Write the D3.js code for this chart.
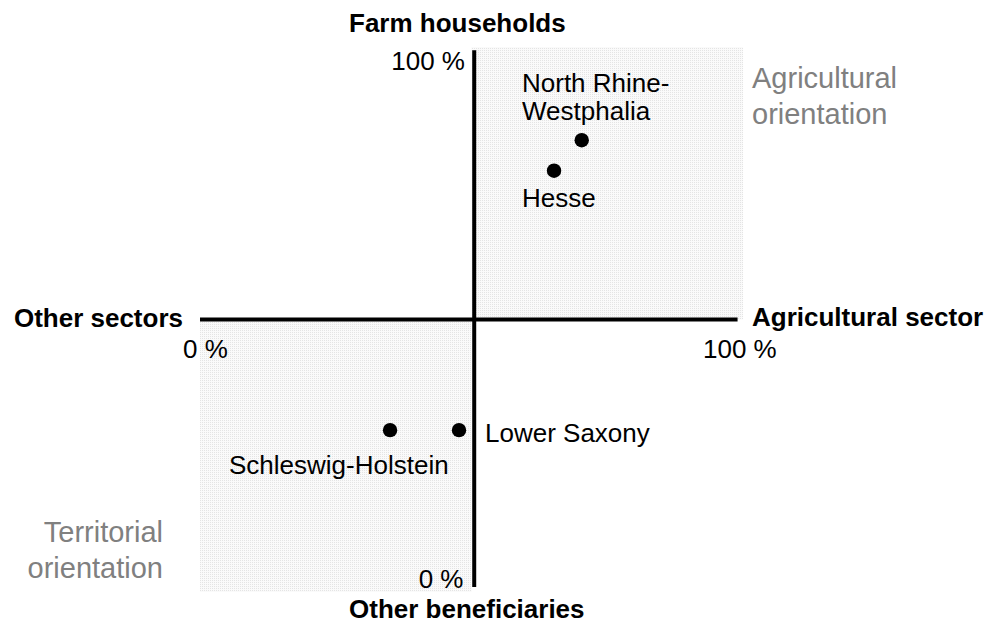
<!DOCTYPE html>
<html>
<head>
<meta charset="utf-8">
<script src="https://cdn.jsdelivr.net/npm/d3@7"></script>
<style>
  html, body { margin: 0; padding: 0; background: #fff; }
  svg { display: block; font-family: "Liberation Sans", Arial, sans-serif; }
</style>
</head>
<body>
<svg id="chart" width="989" height="623"></svg>
<script>
// ---- data ----
const regions = ["North Rhine-Westphalia", "Hesse", "Lower Saxony", "Schleswig-Holstein"];
const agriculturalShare = [70.3, 65.2, 47.7, 35.0];   // x: % agricultural sector
const farmHouseholdShare = [82.9, 77.3, 29.7, 29.7];  // y: % farm households
const axisTitles = ["Farm households", "Other beneficiaries", "Other sectors", "Agricultural sector"];
const tickLabels = ["0 %", "100 %"];
const orientationLabels = [["Agricultural", "orientation"], ["Territorial", "orientation"]];

const svg = d3.select("#chart");
const x = d3.scaleLinear().domain([0, 100]).range([200, 743]);
const y = d3.scaleLinear().domain([0, 100]).range([592, 47]);

// dotted shading pattern
const defs = svg.append("defs");
const pat = defs.append("pattern").attr("id", "dots")
  .attr("width", 2).attr("height", 2).attr("patternUnits", "userSpaceOnUse");
pat.append("rect").attr("width", 2).attr("height", 2).attr("fill", "#fafafa");
pat.append("rect").attr("width", 1).attr("height", 1).attr("fill", "#e4e4e4");

// quadrants
const quads = [
  { x0: 50, x1: 100, y0: 50, y1: 100 },
  { x0: 0, x1: 50, y0: 0, y1: 50 }
];
svg.selectAll("rect.quad").data(quads).join("rect")
  .attr("class", "quad")
  .attr("x", d => x(d.x0))
  .attr("y", d => y(d.y1))
  .attr("width", d => x(d.x1) - x(d.x0))
  .attr("height", d => y(d.y0) - y(d.y1))
  .attr("fill", "url(#dots)");

// axes lines
svg.append("line")
  .attr("x1", x(0)).attr("x2", x(99))
  .attr("y1", y(50)).attr("y2", y(50))
  .attr("stroke", "#000").attr("stroke-width", 4);
svg.append("line")
  .attr("x1", x(50.5)).attr("x2", x(50.5))
  .attr("y1", y(99.4)).attr("y2", y(0.9))
  .attr("stroke", "#000").attr("stroke-width", 4);

// points
const pts = regions.map((r, i) => ({ name: r, xv: agriculturalShare[i], yv: farmHouseholdShare[i] }));
svg.selectAll("circle.pt").data(pts).join("circle")
  .attr("class", "pt")
  .attr("cx", d => x(d.xv)).attr("cy", d => y(d.yv))
  .attr("r", 7.2).attr("fill", "#000");

// helper for text
function txt(t, px, py, opts = {}) {
  return svg.append("text")
    .attr("x", px).attr("y", py)
    .attr("text-anchor", opts.anchor || "start")
    .attr("font-size", opts.size || 26)
    .attr("font-weight", opts.bold ? "bold" : "normal")
    .attr("fill", opts.fill || "#000")
    .text(t);
}

// axis titles
txt(axisTitles[0], 349, 31.5, { bold: true, size: 26 });
txt(axisTitles[1], 349, 617.5, { bold: true, size: 26 });
txt(axisTitles[2], 183, 326.5, { bold: true, size: 26, anchor: "end" });
txt(axisTitles[3], 752, 325.5, { bold: true, size: 26 });

// tick labels
txt(tickLabels[1], 465, 70, { anchor: "end" });
txt(tickLabels[0], 463.5, 588, { anchor: "end" });
txt(tickLabels[0], 183, 358);
txt(tickLabels[1], 703, 358);

// point labels
txt("North Rhine-", 522, 91.5);
txt("Westphalia", 522, 120);
txt("Hesse", 522, 206.5);
txt("Lower Saxony", 485, 441.5);
txt("Schleswig-Holstein", 229, 474);

// orientation labels
txt(orientationLabels[0][0], 752, 88, { size: 29, fill: "#808080" });
txt(orientationLabels[0][1], 752, 123.5, { size: 29, fill: "#808080" });
txt(orientationLabels[1][0], 163, 541.5, { size: 29, fill: "#808080", anchor: "end" });
txt(orientationLabels[1][1], 163, 578, { size: 29, fill: "#808080", anchor: "end" });
</script>
</body>
</html>
